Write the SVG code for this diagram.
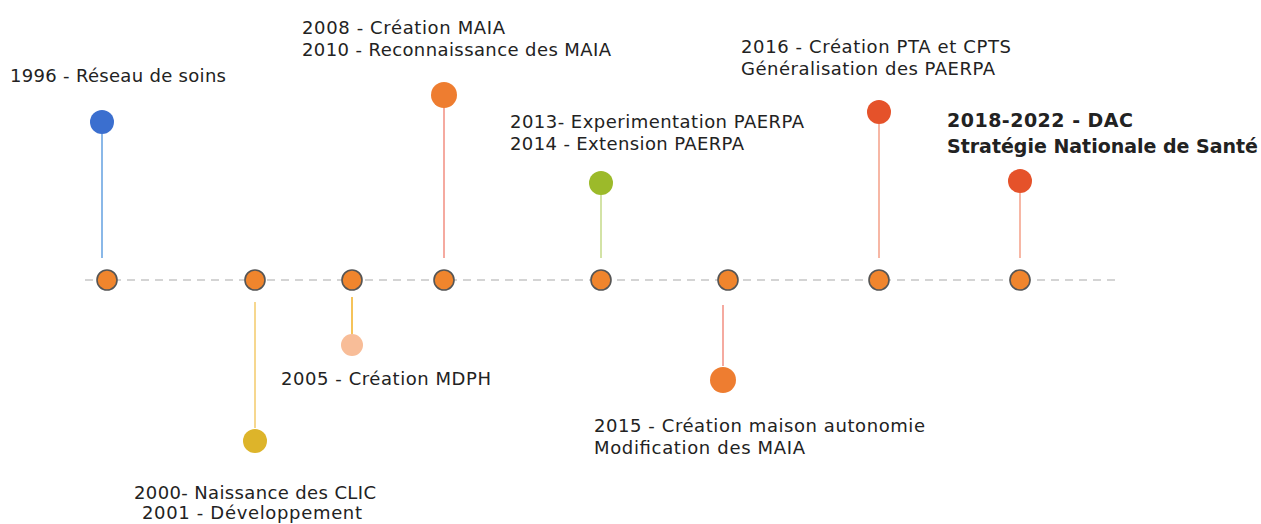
<svg xmlns="http://www.w3.org/2000/svg" width="1261" height="524" viewBox="0 0 1261 524">
<style>
text{font-family:"DejaVu Sans","Liberation Sans",sans-serif;font-size:18px;fill:#222}
.b{font-weight:bold;font-size:19px}
.axis{stroke:#d4d4d4;stroke-width:2;stroke-dasharray:8 6}
.tick{fill:#f0852d;stroke:#555;stroke-width:1.6}
.stem{stroke-width:2}
</style>
<rect width="1261" height="524" fill="#fff"/>
<g id="connectors">
<line class="axis" x1="85" y1="280" x2="1120" y2="280"/>
<line class="stem" x1="102" y1="134" x2="102" y2="258" stroke="#8ab8e8"/>
<line class="stem" x1="255" y1="302" x2="255" y2="428" stroke="#f6d78f"/>
<line class="stem" x1="352" y1="297" x2="352" y2="334" stroke="#f5c35a"/>
<line class="stem" x1="444" y1="107" x2="444" y2="258" stroke="#f5aaa0"/>
<line class="stem" x1="601" y1="195" x2="601" y2="258" stroke="#d3e3a6"/>
<line class="stem" x1="723" y1="305" x2="723" y2="366" stroke="#f5aaa0"/>
<line class="stem" x1="879" y1="124" x2="879" y2="258" stroke="#f7b7a5"/>
<line class="stem" x1="1020" y1="193" x2="1020" y2="258" stroke="#f7b7a5"/>
</g>
<g id="axis-nodes">
<circle class="tick" cx="107" cy="280" r="10"/>
<circle class="tick" cx="255" cy="280" r="10"/>
<circle class="tick" cx="352" cy="280" r="10"/>
<circle class="tick" cx="444" cy="280" r="10"/>
<circle class="tick" cx="601" cy="280" r="10"/>
<circle class="tick" cx="728" cy="280" r="10"/>
<circle class="tick" cx="879" cy="280" r="10"/>
<circle class="tick" cx="1020" cy="280" r="10"/>
</g>
<g id="e1996">
<circle cx="102" cy="122" r="12" fill="#3b6fcf"/>
<text x="10" y="82" textLength="216">1996 - Réseau de soins</text>
</g>
<g id="e2000">
<circle cx="255" cy="441" r="12" fill="#ddb42a"/>
<text x="134" y="499" textLength="242">2000- Naissance des CLIC</text>
<text x="142" y="519" textLength="220">2001 - Développement</text>
</g>
<g id="e2005">
<circle cx="352" cy="345" r="11" fill="#f8bd98"/>
<text x="281" y="385" textLength="210">2005 - Création MDPH</text>
</g>
<g id="e2008">
<circle cx="444" cy="95" r="13" fill="#ee7d30"/>
<text x="302" y="34" textLength="203">2008 - Création MAIA</text>
<text x="302" y="56" textLength="309">2010 - Reconnaissance des MAIA</text>
</g>
<g id="e2013">
<circle cx="601" cy="183" r="12" fill="#9cba2a"/>
<text x="510" y="128" textLength="294">2013- Experimentation PAERPA</text>
<text x="510" y="150" textLength="234">2014 - Extension PAERPA</text>
</g>
<g id="e2015">
<circle cx="723" cy="380" r="13" fill="#ee7d30"/>
<text x="594" y="432" textLength="331">2015 - Création maison autonomie</text>
<text x="594" y="454" textLength="211">Modification des MAIA</text>
</g>
<g id="e2016">
<circle cx="879" cy="112" r="12" fill="#e5522a"/>
<text x="741" y="53" textLength="270">2016 - Création PTA et CPTS</text>
<text x="741" y="75" textLength="254">Généralisation des PAERPA</text>
</g>
<g id="e2018">
<circle cx="1020" cy="181" r="12" fill="#e5522a"/>
<text class="b" x="947" y="127" textLength="186">2018-2022 - DAC</text>
<text class="b" x="947" y="153" textLength="311">Stratégie Nationale de Santé</text>
</g>
</svg>
